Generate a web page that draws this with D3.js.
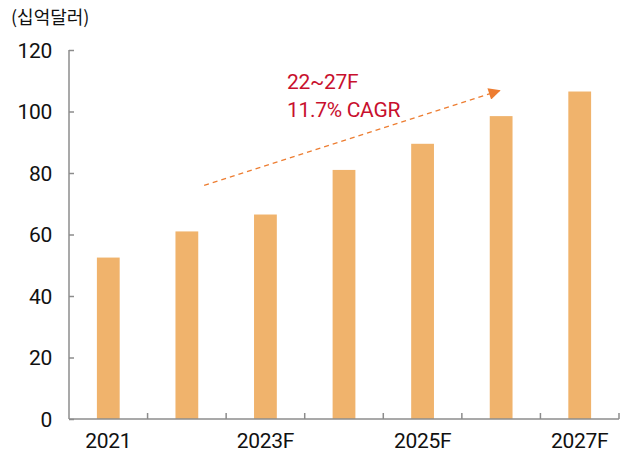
<!DOCTYPE html>
<html>
<head>
<meta charset="utf-8">
<script src="https://cdn.jsdelivr.net/npm/d3@7/dist/d3.min.js"></script>
<style>
  html, body { margin: 0; padding: 0; background: #fff; }
  svg text { font-family: "Liberation Sans Narrow", "Roboto", "Liberation Sans", sans-serif; }
</style>
</head>
<body>
<div id="chart"></div>
<script>
// 데이터
const categories = ['2021', '2022', '2023F', '2024F', '2025F', '2026F', '2027F'];
const values = [52.5, 61, 66.5, 81, 89.5, 98.5, 106.5];
const yTicks = [0, 20, 40, 60, 80, 100, 120];
const xLabelShown = ['2021', '2023F', '2025F', '2027F'];
const unitLabel = '(십억달러)';
const cagrLines = ['22~27F', '11.7% CAGR'];
// 화살표: [카테고리 위치, 값]
const arrowFrom = [1.22, 76];
const arrowTo = [4.98, 106.8];

const width = 622, height = 456;
const margin = { top: 50, right: 3, bottom: 37, left: 69 };

const svg = d3.select('#chart').append('svg')
    .attr('width', width)
    .attr('height', height);

const x = d3.scaleBand()
    .domain(categories)
    .range([margin.left, width - margin.right])
    .paddingInner(0.71)
    .paddingOuter(0.355);

const y = d3.scaleLinear()
    .domain([0, 120])
    .range([height - margin.bottom, margin.top]);

// 카테고리 인덱스 -> x 좌표 (주석용)
const xi = d3.scaleLinear()
    .domain([-0.5, categories.length - 0.5])
    .range([margin.left, width - margin.right]);

const axisColor = '#8c8c8c';

// 막대
svg.append('g')
    .selectAll('rect')
    .data(values)
    .enter()
    .append('rect')
    .attr('x', (d, i) => x(categories[i]))
    .attr('y', d => y(d))
    .attr('width', x.bandwidth())
    .attr('height', d => y(0) - y(d))
    .attr('fill', '#f0b36c');

// y축
const yAxis = d3.axisRight(y)
    .tickValues(yTicks)
    .tickSize(5)
    .tickFormat('');
const yG = svg.append('g')
    .attr('transform', `translate(${margin.left},0)`)
    .call(yAxis);
yG.select('.domain').remove();
yG.selectAll('.tick line').attr('stroke', axisColor).attr('stroke-width', 1.5);
svg.append('line')
    .attr('x1', margin.left).attr('x2', margin.left)
    .attr('y1', y(120)).attr('y2', y(0))
    .attr('stroke', axisColor).attr('stroke-width', 1.5);

svg.append('g')
    .selectAll('text')
    .data(yTicks)
    .enter()
    .append('text')
    .attr('x', margin.left - 17)
    .attr('y', d => y(d))
    .attr('dy', '0.36em')
    .attr('text-anchor', 'end')
    .attr('font-size', 21)
    .attr('letter-spacing', -0.3)
    .attr('fill', '#111')
    .text(d => d);

// x축
const step = x.step();
const bounds = d3.range(1, categories.length + 1).map(k => margin.left + k * step);
svg.append('line')
    .attr('x1', margin.left).attr('x2', width - margin.right)
    .attr('y1', y(0)).attr('y2', y(0))
    .attr('stroke', axisColor).attr('stroke-width', 1.5);
svg.append('g')
    .selectAll('line')
    .data(bounds)
    .enter()
    .append('line')
    .attr('x1', d => d).attr('x2', d => d)
    .attr('y1', y(0)).attr('y2', y(0) - 6)
    .attr('stroke', axisColor).attr('stroke-width', 1.5);

svg.append('g')
    .selectAll('text')
    .data(xLabelShown)
    .enter()
    .append('text')
    .attr('x', d => x(d) + x.bandwidth() / 2)
    .attr('y', y(0) + 29)
    .attr('text-anchor', 'middle')
    .attr('font-size', 21)
    .attr('letter-spacing', -0.3)
    .attr('fill', '#111')
    .text(d => d);

// 단위
svg.append('text')
    .attr('x', 11)
    .attr('y', 24)
    .attr('font-size', 18)
    .style('font-family', '"Noto Sans CJK KR", sans-serif')
    .attr('fill', '#111')
    .text(unitLabel);

// CAGR 화살표
svg.append('defs').append('marker')
    .attr('id', 'arrow')
    .attr('viewBox', '0 0 10 10')
    .attr('refX', 9).attr('refY', 5)
    .attr('markerWidth', 13).attr('markerHeight', 12)
    .attr('markerUnits', 'userSpaceOnUse')
    .attr('orient', 'auto')
    .append('path')
    .attr('d', 'M0,0L10,5L0,10Z')
    .attr('fill', '#ed7d31');

svg.append('line')
    .attr('x1', xi(arrowFrom[0])).attr('y1', y(arrowFrom[1]))
    .attr('x2', xi(arrowTo[0])).attr('y2', y(arrowTo[1]))
    .attr('stroke', '#ed7d31')
    .attr('stroke-width', 1.3)
    .attr('stroke-dasharray', '5,4')
    .attr('marker-end', 'url(#arrow)');

svg.append('g')
    .selectAll('text')
    .data(cagrLines)
    .enter()
    .append('text')
    .attr('x', 287)
    .attr('y', (d, i) => 89 + i * 28)
    .attr('font-size', 21)
    .attr('letter-spacing', -0.3)
    .attr('fill', '#c8102e')
    .text(d => d);
</script>
</body>
</html>
